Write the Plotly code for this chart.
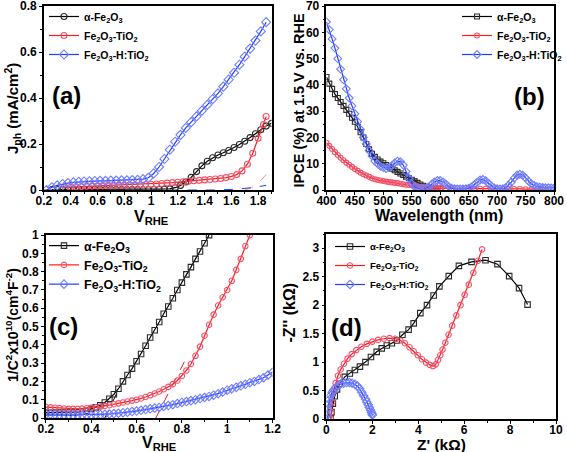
import plotly.graph_objects as go

# ---------------- (a) photocurrent vs potential ----------------
a_black_v = [0.26,0.30,0.34,0.38,0.42,0.46,0.50,0.54,0.58,0.62,0.66,0.70,0.74,0.78,0.82,0.86,0.90,0.94,0.98,1.02,1.06,
             1.10,1.14,1.18,1.22,1.26,1.30,1.34,1.38,1.42,1.46,1.50,1.54,1.58,1.62,1.66,1.70,1.74,1.78,1.82,1.86,1.90]
a_black_j = [0.002,0.002,0.002,0.002,0.002,0.002,0.002,0.002,0.002,0.002,0.002,0.002,0.002,0.002,0.002,0.002,0.002,0.002,0.002,0.002,0.002,
             0.003,0.005,0.01,0.02,0.035,0.055,0.08,0.105,0.125,0.14,0.152,0.162,0.172,0.185,0.198,0.212,0.228,0.245,0.262,0.278,0.29]
a_red_v = [0.36,0.40,0.44,0.48,0.52,0.56,0.60,0.64,0.68,0.72,0.76,0.80,0.84,0.88,0.92,0.96,1.00,1.04,1.08,1.12,
           1.16,1.20,1.24,1.28,1.32,1.36,1.40,1.44,1.48,1.52,1.56,1.60,1.64,1.68,1.72,1.76,1.80,1.84,1.86]
a_red_j = [0.010,0.012,0.014,0.015,0.016,0.017,0.018,0.019,0.020,0.020,0.021,0.021,0.022,0.022,0.023,0.024,0.025,0.026,0.028,0.030,
           0.032,0.034,0.036,0.038,0.040,0.042,0.044,0.046,0.048,0.050,0.054,0.059,0.067,0.083,0.112,0.16,0.225,0.285,0.32]
a_blue_v = [0.22,0.26,0.30,0.34,0.38,0.42,0.46,0.50,0.54,0.58,0.62,0.66,0.70,0.74,0.78,0.82,0.86,0.90,0.94,0.98,1.02,
            1.06,1.10,1.14,1.18,1.22,1.26,1.30,1.34,1.38,1.42,1.46,1.50,1.54,1.58,1.62,1.66,1.70,1.74,1.78,1.82,1.86]
a_blue_j = [0.0,0.012,0.02,0.026,0.03,0.033,0.035,0.037,0.038,0.039,0.04,0.04,0.041,0.041,0.042,0.042,0.043,0.044,0.047,0.053,0.072,
            0.10,0.135,0.175,0.21,0.24,0.27,0.295,0.32,0.345,0.37,0.395,0.42,0.45,0.48,0.51,0.545,0.58,0.615,0.65,0.69,0.73]
a_dark_red_v = [1.70,1.75,1.80,1.85,1.90]
a_dark_red_j = [0.0,0.01,0.03,0.06,0.10]
a_dark_blue_v = [0.20,1.50,1.65,1.75,1.86]
a_dark_blue_j = [0.0,0.0,0.004,0.01,0.02]
a_xticks = [0.2,0.4,0.6,0.8,1.0,1.2,1.4,1.6,1.8]
a_yticks = [0,0.2,0.4,0.6,0.8]

# ---------------- (b) IPCE ----------------
b_black_wl = [400,405,410,415,420,425,430,435,440,445,450,455,460,465,470,475,480,485,490,495,
              500,505,510,515,520,525,530,535,540,545,550,555,560,565,570,575,580,585,590,595,600]
b_black = [43,40.5,38.5,36.5,35,33.5,32,30.5,29,27.5,26,24,22,20,17.5,15.5,13.8,12.6,11.6,10.8,
           10.2,9.5,8.8,8.1,7.5,6.9,6.3,5.7,5.1,4.5,3.9,3.3,2.7,2.1,1.6,1.2,0.9,0.7,0.6,0.5,0.5]
b_red_wl = [400,405,410,415,420,425,430,435,440,445,450,455,460,465,470,475,480,485,490,495,
            500,505,510,515,520,525,530,535,540,545,550,555,560,565,570,575,580,585,590,595,600,
            610,620,630,640,650,660,670,680,690,700,710,720,730,740,750,760,770,780,790]
b_red = [18,16.8,15.6,14.4,13.3,12.3,11.3,10.4,9.6,8.8,8.0,7.3,6.6,6.0,5.5,5.0,4.5,4.1,3.8,3.6,
         3.4,3.2,3.0,2.9,2.7,2.6,2.4,2.2,2.0,1.9,1.8,1.6,1.4,1.2,1.1,1.0,0.9,0.8,0.8,0.7,0.7,
         0.6,0.6,0.6,0.5,0.5,0.5,0.5,0.5,0.4,0.4,0.4,0.4,0.4,0.4,0.3,0.3,0.3,0.3,0.3]
b_blue_wl = [400,405,410,415,420,425,430,435,440,445,450,455,460,465,470,475,480,485,490,495,
             500,505,510,515,520,525,530,535,540,545,550,555,560,565,570,575,580,585,590,595,
             600,605,610,615,620,625,630,635,640,645,650,655,660,665,670,675,680,685,690,695,
             700,705,710,715,720,725,730,735,740,745,750,755,760,765,770,775,780,785,790,795,800]
b_blue = [64,61,57.5,54,50,46,42,38.5,35,32,29,26,23,20,17.5,15,13,11,10,9,
          8.5,8.2,8.5,9.3,10.3,11,10.8,9.5,7,4.5,2.5,1.2,0.6,0.4,0.4,0.6,1.2,2.2,3.1,3.6,
          3.6,3.1,2.2,1.3,0.7,0.5,0.4,0.4,0.4,0.5,0.7,1.2,2.0,3.0,3.8,4.0,3.5,2.5,1.5,0.8,
          0.5,0.4,0.5,0.9,1.8,3.0,4.5,5.6,6.0,5.6,4.6,3.4,2.4,1.7,1.3,1.1,1.0,0.9,0.9,0.8,0.8]
b_xticks = [400,450,500,550,600,650,700,750,800]
b_yticks = [0,10,20,30,40,50,60,70]

# ---------------- (c) Mott-Schottky ----------------
c_black_v = [0.20,0.22,0.24,0.26,0.28,0.30,0.32,0.34,0.36,0.38,0.40,0.42,0.44,0.46,0.48,0.50,0.52,0.54,0.56,0.58,
             0.60,0.62,0.64,0.66,0.68,0.70,0.72,0.74,0.76,0.78,0.80,0.82,0.84,0.86,0.88,0.90,0.92]
c_black = [0.03,0.03,0.03,0.03,0.03,0.03,0.03,0.032,0.035,0.04,0.05,0.058,0.07,0.085,0.105,0.13,0.16,0.2,0.235,0.27,
           0.31,0.35,0.395,0.44,0.48,0.525,0.57,0.61,0.655,0.70,0.74,0.785,0.825,0.87,0.91,0.955,1.0]
c_red_v = [0.20,0.22,0.24,0.26,0.28,0.30,0.32,0.34,0.36,0.38,0.40,0.42,0.44,0.46,0.48,0.50,0.52,0.54,0.56,0.58,
           0.60,0.62,0.64,0.66,0.68,0.70,0.72,0.74,0.76,0.78,0.80,0.82,0.84,0.86,0.88,0.90,0.92,0.94,0.96,0.98,
           1.00,1.02,1.04,1.06,1.08,1.10]
c_red = [0.06,0.058,0.056,0.054,0.052,0.05,0.05,0.05,0.051,0.053,0.056,0.059,0.062,0.066,0.07,0.075,0.08,0.085,0.09,0.095,
         0.10,0.107,0.115,0.124,0.134,0.145,0.157,0.17,0.185,0.205,0.23,0.26,0.295,0.34,0.39,0.45,0.51,0.565,0.615,0.66,
         0.70,0.75,0.81,0.87,0.94,1.0]
c_blue_v = [0.20,0.22,0.24,0.26,0.28,0.30,0.32,0.34,0.36,0.38,0.40,0.42,0.44,0.46,0.48,0.50,0.52,0.54,0.56,0.58,
            0.60,0.62,0.64,0.66,0.68,0.70,0.72,0.74,0.76,0.78,0.80,0.82,0.84,0.86,0.88,0.90,0.92,0.94,0.96,0.98,
            1.00,1.02,1.04,1.06,1.08,1.10,1.12,1.14,1.16,1.18,1.20]
c_blue = [0.02,0.02,0.019,0.018,0.017,0.016,0.016,0.016,0.016,0.016,0.017,0.018,0.019,0.02,0.022,0.024,0.026,0.029,0.032,0.035,
          0.038,0.042,0.046,0.05,0.054,0.058,0.063,0.068,0.073,0.079,0.085,0.09,0.095,0.10,0.106,0.112,0.118,0.125,0.133,0.142,
          0.152,0.16,0.168,0.176,0.184,0.193,0.20,0.21,0.22,0.235,0.25]
c_fit_black_v = [0.46,0.53]
c_fit_black = [0.0,0.18]
c_fit_red_v = [0.685,0.82]
c_fit_red = [0.0,0.33]
c_xticks = [0.2,0.4,0.6,0.8,1.0,1.2]
c_yticks = [0,0.1,0.2,0.3,0.4,0.5,0.6,0.7,0.8,0.9,1.0]

# ---------------- (d) Nyquist ----------------
d_black_re = [0.18,0.22,0.28,0.36,0.46,0.58,0.80,1.02,1.24,1.46,1.70,1.94,2.19,2.41,2.63,2.85,3.07,3.31,3.58,3.80,
              4.09,4.38,4.67,4.92,5.33,5.77,6.32,6.93,7.45,7.96,8.39,8.76]
d_black_im = [0.02,0.12,0.27,0.40,0.52,0.62,0.74,0.80,0.86,0.92,1.00,1.09,1.18,1.24,1.29,1.33,1.38,1.48,1.57,1.68,
              1.86,2.00,2.17,2.33,2.51,2.69,2.76,2.79,2.72,2.51,2.30,2.01]
d_red_re = [0.20,0.22,0.26,0.32,0.40,0.50,0.62,0.76,0.92,1.10,1.30,1.52,1.76,2.00,2.25,2.50,2.75,3.00,3.22,3.42,
            3.62,3.80,3.98,4.16,4.34,4.50,4.64,4.76,4.86,4.96,5.06,5.18,5.32,5.48,5.66,5.84,6.02,6.20,6.40,6.60,6.78]
d_red_im = [0.0,0.12,0.30,0.48,0.63,0.76,0.87,0.97,1.06,1.14,1.21,1.27,1.32,1.36,1.39,1.41,1.42,1.41,1.38,1.33,
            1.26,1.19,1.12,1.05,0.99,0.95,0.93,0.96,1.04,1.12,1.22,1.34,1.48,1.64,1.82,2.00,2.18,2.36,2.57,2.78,2.98]
d_blue_re = [0.03,0.04,0.06,0.09,0.13,0.18,0.25,0.33,0.42,0.52,0.63,0.75,0.88,1.00,1.12,1.24,1.35,1.45,1.54,1.62,
             1.70,1.76,1.82,1.87,1.92,1.96,1.99,2.00]
d_blue_im = [0.0,0.08,0.17,0.26,0.34,0.41,0.47,0.52,0.56,0.59,0.62,0.63,0.64,0.64,0.63,0.61,0.58,0.53,0.47,0.41,
             0.35,0.30,0.25,0.20,0.16,0.12,0.09,0.07]
d_xticks = [0,2,4,6,8,10]
d_yticks = [0,0.5,1,1.5,2,2.5,3]

names = ["α-Fe<sub>2</sub>O<sub>3</sub>", "Fe<sub>2</sub>O<sub>3</sub>-TiO<sub>2</sub>",
         "Fe<sub>2</sub>O<sub>3</sub>-H:TiO<sub>2</sub>"]

FF = "Liberation Sans, Arial, sans-serif"
BLACK_L, BLACK_M = "#000000", "#2a2a2a"
RED_L, RED_M = "#ff1a1a", "#f2506a"
BLUE_L, BLUE_M = "#1f3dff", "#6f7dff"

fig = go.Figure()


def add(x, y, xa, ya, lc, mc, sym, name, legend, show=True, dash="solid", mode="lines+markers", size=6, lw=1.2):
    fig.add_trace(go.Scatter(
        x=x, y=y, xaxis=xa, yaxis=ya, mode=mode, name=name, legend=legend, showlegend=show,
        line=dict(color=lc, width=lw, dash=dash),
        marker=dict(symbol=sym, size=size, color=mc, line=dict(width=1.1, color=mc)),
    ))


# (a)
add(a_dark_red_v, a_dark_red_j, "x", "y", "#ff9090", RED_M, "circle-open", "dr", "legend", False, "dash", "lines", lw=1)
add(a_dark_blue_v, a_dark_blue_j, "x", "y", BLUE_L, BLUE_M, "circle-open", "db", "legend", False, "dash", "lines", lw=1)
add(a_black_v, a_black_j, "x", "y", BLACK_L, BLACK_M, "circle-open", names[0], "legend")
add(a_red_v, a_red_j, "x", "y", RED_L, RED_M, "circle-open", names[1], "legend")
add(a_blue_v, a_blue_j, "x", "y", BLUE_L, BLUE_M, "diamond-open", names[2], "legend", size=7)
# (b)
add(b_black_wl, b_black, "x2", "y2", BLACK_L, BLACK_M, "square-open", names[0], "legend2", size=5)
add(b_red_wl, b_red, "x2", "y2", RED_L, RED_M, "circle-open", names[1], "legend2", size=5)
add(b_blue_wl, b_blue, "x2", "y2", BLUE_L, BLUE_M, "diamond-open", names[2], "legend2", size=6)
# (c)
add(c_fit_black_v, c_fit_black, "x3", "y3", BLACK_L, BLACK_M, "square-open", "fb", "legend3", False, "dash", "lines", lw=1)
add(c_fit_red_v, c_fit_red, "x3", "y3", RED_L, RED_M, "circle-open", "fr", "legend3", False, "dash", "lines", lw=1)
add(c_black_v, c_black, "x3", "y3", BLACK_L, BLACK_M, "square-open", names[0], "legend3", size=5.5)
add(c_red_v, c_red, "x3", "y3", RED_L, RED_M, "circle-open", names[1], "legend3", size=5.5)
add(c_blue_v, c_blue, "x3", "y3", BLUE_L, BLUE_M, "diamond-open", names[2], "legend3", size=6.5)
# (d)
add(d_black_re, d_black_im, "x4", "y4", BLACK_L, BLACK_M, "square-open", names[0], "legend4", size=5.5)
add(d_red_re, d_red_im, "x4", "y4", RED_L, RED_M, "circle-open", names[1], "legend4", size=5.5)
add(d_blue_re, d_blue_im, "x4", "y4", BLUE_L, BLUE_M, "diamond-open", names[2], "legend4", size=6.5)

W, H = 567, 452
TF = dict(family=FF, size=12, color="black", weight="bold")


def axis(px0, px1, horiz, rng, ticks, mdtick, anchor):
    if horiz:
        dom = [px0 / W, px1 / W]
    else:
        dom = [1 - px1 / H, 1 - px0 / H]
    return dict(domain=dom, range=rng, anchor=anchor, showline=True, linewidth=1.5, linecolor="black",
                mirror=True, ticks="outside", ticklen=3, tickwidth=1.2, tickcolor="black",
                tickmode="array", tickvals=ticks, tickfont=TF, showgrid=False, zeroline=False,
                automargin=False, ticklabeloverflow="allow",
                ticklabelstandoff=-4 if horiz else 0,
                minor=dict(ticks="outside", ticklen=2, tickwidth=1, tickcolor="black", dtick=mdtick,
                           tick0=ticks[0], showgrid=False))


fig.update_layout(
    width=W, height=H, margin=dict(l=0, r=0, t=0, b=0),
    paper_bgcolor="white", plot_bgcolor="white",
    xaxis=axis(44, 272, True, [0.2, 1.9], a_xticks, 0.1, "y"),
    yaxis=axis(6, 190, False, [0, 0.8004], a_yticks, 0.1, "x"),
    xaxis2=axis(327, 555, True, [400, 800], b_xticks, 25, "y2"),
    yaxis2=axis(6, 190, False, [0, 70.03], b_yticks, 5, "x2"),
    xaxis3=axis(46, 273, True, [0.2, 1.2], c_xticks, 0.1, "y3"),
    yaxis3=axis(235, 418, False, [0, 1.0005], c_yticks, 0.05, "x3"),
    xaxis4=axis(327, 557, True, [0, 10], d_xticks, 1, "y4"),
    yaxis4=axis(234, 419, False, [0, 3.25], d_yticks, 0.25, "x4"),
)


def leg(px, py, size):
    return dict(x=px / W, y=1 - py / H, xanchor="left", yanchor="top", bgcolor="rgba(0,0,0,0)",
                borderwidth=0, itemwidth=30, tracegroupgap=0,
                font=dict(family=FF, size=size, color="black", weight="bold"))


fig.update_layout(legend=leg(44, 2, 10.5), legend2=leg(458, 2, 10.5),
                  legend3=leg(44, 231, 12.5), legend4=leg(330, 232, 9.5))

# axis titles and panel labels as annotations (pixel centre positions)
titles = [
    ("V<sub>RHE</sub>", 152, 217, 0, 16),
    ("J<sub>ph</sub> (mA/cm<sup>2</sup>)", 12, 108, -90, 15),
    ("Wavelength (nm)", 440, 215, 0, 16),
    ("IPCE (%) at 1.5 V vs. RHE", 300, 100, -90, 14.5),
    ("V<sub>RHE</sub>", 160, 443, 0, 16),
    ("1/C<sup>2</sup>x10<sup>10</sup>(cm<sup>4</sup>F<sup>-2</sup>)", 12, 325, -90, 14),
    ("Z' (kΩ)", 442, 444, 0, 15.5),
    ("-Z'' (kΩ)", 290, 312, -90, 16),
    ("(a)", 67, 95, 0, 24),
    ("(b)", 530, 97, 0, 24),
    ("(c)", 64, 326, 0, 24),
    ("(d)", 347, 327, 0, 24),
]
for txt, px, py, ang, sz in titles:
    fig.add_annotation(text=txt, x=px / W, y=1 - py / H, xref="paper", yref="paper", showarrow=False,
                       textangle=ang, xanchor="center", yanchor="middle",
                       font=dict(family=FF, size=sz, color="black", weight="bold"))

fig.write_html("out.html", config={"displayModeBar": False},
               post_script="document.body.style.margin='0';document.body.style.overflow='hidden';")
